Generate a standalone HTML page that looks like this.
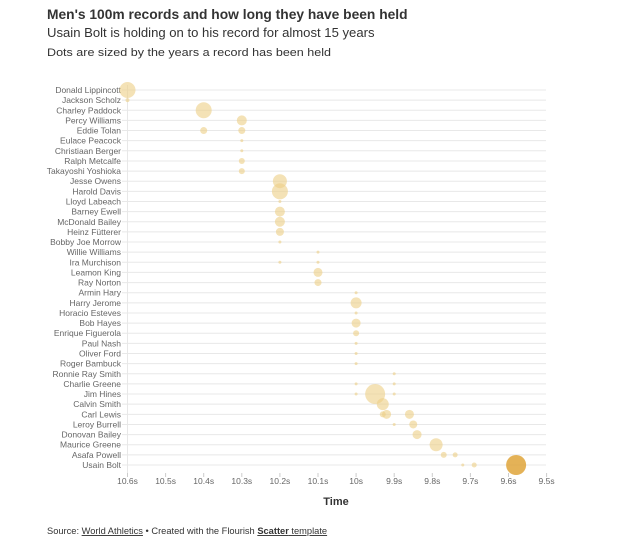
<!DOCTYPE html>
<html><head><meta charset="utf-8"><style>
body{margin:0;background:#fff;font-family:"Liberation Sans",sans-serif;}
</style></head><body>
<svg width="619" height="550" xmlns="http://www.w3.org/2000/svg" font-family="Liberation Sans, sans-serif">
<text x="47" y="19" font-size="13.8" font-weight="bold" fill="#333">Men's 100m records and how long they have been held</text>
<text x="47" y="37" font-size="13.1" fill="#333">Usain Bolt is holding on to his record for almost 15 years</text>
<text x="47" y="56" font-size="11" fill="#333" textLength="284" lengthAdjust="spacingAndGlyphs">Dots are sized by the years a record has been held</text>
<g id="grid"></g>
<g id="labels" font-size="8.5" fill="#666" text-anchor="end"></g>
<g id="ticks" font-size="8.5" fill="#666" text-anchor="middle"></g>
<g id="dots"></g>
<text x="336" y="505" font-size="11" font-weight="bold" fill="#333" text-anchor="middle">Time</text>
<text x="47" y="534" font-size="9.3" fill="#333">Source: <tspan text-decoration="underline">World Athletics</tspan> • Created with the Flourish <tspan font-weight="bold" text-decoration="underline">Scatter</tspan><tspan text-decoration="underline"> template</tspan></text>
</svg>
<script>
const names=["Donald Lippincott","Jackson Scholz","Charley Paddock","Percy Williams","Eddie Tolan","Eulace Peacock","Christiaan Berger","Ralph Metcalfe","Takayoshi Yoshioka","Jesse Owens","Harold Davis","Lloyd Labeach","Barney Ewell","McDonald Bailey","Heinz Fütterer","Bobby Joe Morrow","Willie Williams","Ira Murchison","Leamon King","Ray Norton","Armin Hary","Harry Jerome","Horacio Esteves","Bob Hayes","Enrique Figuerola","Paul Nash","Oliver Ford","Roger Bambuck","Ronnie Ray Smith","Charlie Greene","Jim Hines","Calvin Smith","Carl Lewis","Leroy Burrell","Donovan Bailey","Maurice Greene","Asafa Powell","Usain Bolt"];
const NS="http://www.w3.org/2000/svg";
const y=i=>90+i*10.135, x=t=>127.5+(10.6-t)*381;
function el(p,tag,a,txt){const e=document.createElementNS(NS,tag);for(const k in a)e.setAttribute(k,a[k]);if(txt)e.textContent=txt;document.getElementById(p).appendChild(e);}
names.forEach((n,i)=>{el("grid","line",{x1:122,x2:546,y1:y(i),y2:y(i),stroke:"#e8e8e8","stroke-width":1});el("labels","text",{x:121,y:y(i)+3},n);});
el("grid","line",{x1:127.5,x2:127.5,y1:85,y2:473,stroke:"#e8e8e8"});
for(let k=0;k<=11;k++){const t=10.6-k*0.1;const lbl=(Math.round(t*10)/10).toString().replace(/\.0$/,"")+"s";el("ticks","text",{x:x(t),y:484},lbl);el("grid","line",{x1:x(t),x2:x(t),y1:473,y2:477,stroke:"#ccc"});}
const d=[[0,10.6,8],[1,10.6,2],[2,10.4,8],[3,10.3,5],[4,10.4,3.5],[4,10.3,3.5],[5,10.3,1.5],[6,10.3,1.5],[7,10.3,3],[8,10.3,3],[9,10.2,7],[10,10.2,8],[11,10.2,1.5],[12,10.2,5],[13,10.2,5],[14,10.2,4],[15,10.2,1.5],[16,10.1,1.5],[17,10.2,1.5],[17,10.1,1.5],[18,10.1,4.5],[19,10.1,3.5],[20,10,1.5],[21,10,5.5],[22,10,1.5],[23,10,4.5],[24,10,3],[25,10,1.5],[26,10,1.5],[27,10,1.5],[28,9.9,1.5],[29,10,1.5],[29,9.9,1.5],[30,10,1.5],[30,9.95,10],[30,9.9,1.5],[31,9.93,6],[32,9.93,3],[32,9.92,4.5],[32,9.86,4.5],[33,9.9,1.5],[33,9.85,4],[34,9.84,4.5],[35,9.79,6.5],[36,9.77,3],[36,9.74,2.5],[37,9.72,1.5],[37,9.69,2.5]];
d.forEach(([i,t,r])=>el("dots","circle",{cx:x(t),cy:y(i),r:r,fill:"#eccf85","fill-opacity":0.6}));
el("dots","circle",{cx:x(9.58),cy:y(37),r:10,fill:"#dfa53a","fill-opacity":0.85});
</script>
</body></html>
